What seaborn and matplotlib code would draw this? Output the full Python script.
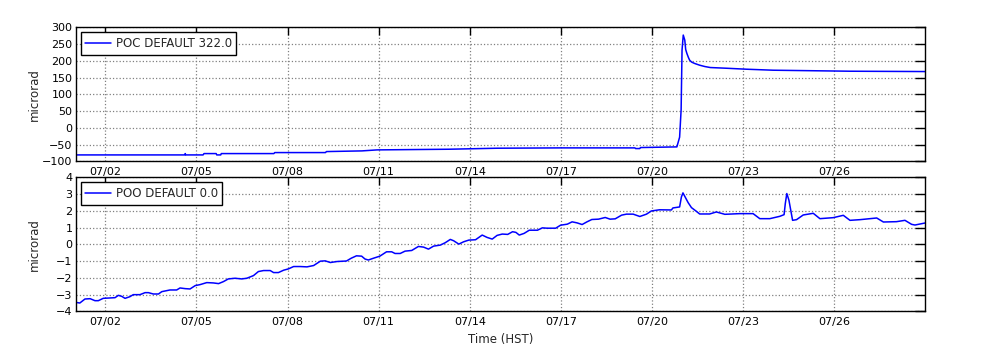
import pandas as pd
import numpy as np
import seaborn as sns
import matplotlib.pyplot as plt
import matplotlib.dates as mdates

# Readings picked off the reference plot (day of July, microrad)
poc_day = [1.03, 4.62, 4.63, 4.65, 5.22, 5.25, 5.65, 5.67, 5.80, 5.82, 7.55, 7.58,
           9.25, 9.28, 10.45, 10.95, 13.31, 14.90, 16.99, 19.44, 19.46, 19.60, 19.62,
           20.82, 20.91, 20.96, 20.99, 21.03, 21.08, 21.11, 21.15, 21.20, 21.24, 21.31,
           21.41, 21.57, 21.74, 21.92, 22.43, 23.11, 23.99, 26.52, 28.99]
poc_val = [-81, -81, -77, -81, -81, -77, -77, -81, -81, -77, -77, -74,
           -74, -71, -69, -66, -64, -61, -60, -60, -62, -62, -59,
           -57, -28, 54, 232, 277, 262, 234, 222, 210, 202, 196,
           192, 187, 183, 180, 178, 175, 172, 169, 168]

poo_day = [1.03, 1.16, 1.33, 1.50, 1.66, 1.77, 1.93, 2.15, 2.32, 2.43, 2.54, 2.65, 2.81,
           2.92, 3.14, 3.31, 3.42, 3.58, 3.75, 3.86, 4.13, 4.35, 4.46, 4.63, 4.79, 4.96,
           5.12, 5.34, 5.56, 5.73, 5.89, 6.05, 6.27, 6.49, 6.66, 6.88, 7.04, 7.21, 7.43,
           7.54, 7.70, 7.87, 8.03, 8.20, 8.42, 8.64, 8.86, 9.08, 9.24, 9.41, 9.63, 9.94,
           10.10, 10.27, 10.44, 10.55, 10.66, 10.82, 11.04, 11.26, 11.43, 11.54, 11.71,
           11.87, 12.09, 12.31, 12.48, 12.64, 12.81, 13.03, 13.19, 13.36, 13.47, 13.64,
           13.80, 13.97, 14.19, 14.41, 14.57, 14.74, 14.90, 15.07, 15.25, 15.41, 15.52,
           15.63, 15.79, 15.96, 16.23, 16.39, 16.55, 16.83, 16.99, 17.21, 17.37, 17.53,
           17.70, 17.86, 18.02, 18.24, 18.46, 18.62, 18.79, 19.00, 19.16, 19.38, 19.60,
           19.82, 19.98, 20.25, 20.64, 20.69, 20.91, 20.97, 21.02, 21.08, 21.19, 21.30,
           21.46, 21.57, 21.90, 22.12, 22.40, 22.89, 23.33, 23.55, 23.88, 24.21, 24.35,
           24.39, 24.44, 24.51, 24.57, 24.63, 24.76, 24.98, 25.31, 25.53, 25.97, 26.30,
           26.52, 26.85, 27.29, 27.40, 27.62, 28.05, 28.33, 28.55, 28.66, 28.99]
poo_val = [-3.46, -3.50, -3.26, -3.24, -3.36, -3.36, -3.22, -3.20, -3.18, -3.04, -3.10, -3.22, -3.12,
           -3.00, -3.00, -2.88, -2.88, -2.96, -2.96, -2.82, -2.72, -2.72, -2.60, -2.64, -2.66, -2.46,
           -2.40, -2.28, -2.30, -2.34, -2.22, -2.06, -2.02, -2.06, -2.02, -1.86, -1.62, -1.56, -1.56,
           -1.68, -1.68, -1.54, -1.46, -1.32, -1.32, -1.34, -1.26, -1.00, -0.98, -1.08, -1.02, -0.99,
           -0.82, -0.68, -0.70, -0.87, -0.93, -0.83, -0.70, -0.44, -0.44, -0.54, -0.54,
           -0.40, -0.36, -0.12, -0.16, -0.28, -0.10, -0.04, 0.10, 0.30, 0.22, 0.02,
           0.16, 0.26, 0.28, 0.56, 0.42, 0.32, 0.54, 0.62, 0.60, 0.76, 0.72,
           0.56, 0.66, 0.85, 0.85, 0.99, 0.97, 0.97, 1.15, 1.21, 1.35, 1.29,
           1.19, 1.35, 1.49, 1.51, 1.61, 1.51, 1.53, 1.75, 1.81, 1.81, 1.67,
           1.81, 2.00, 2.07, 2.06, 2.18, 2.24, 2.84, 3.08, 2.88, 2.50, 2.20,
           1.98, 1.82, 1.82, 1.94, 1.80, 1.84, 1.84, 1.54, 1.54, 1.68, 1.78,
           2.44, 3.04, 2.64, 2.04, 1.44, 1.48, 1.76, 1.86, 1.54, 1.60, 1.74,
           1.44, 1.48, 1.56, 1.58, 1.34, 1.36, 1.44, 1.20, 1.16, 1.28]

poc_label = "POC DEFAULT 322.0"
poo_label = "POO DEFAULT 0.0"
tick_days = [2, 5, 8, 11, 14, 17, 20, 23, 26]


def to_time(days):
    """turn July day numbers into timestamps"""
    return pd.Timestamp("2018-07-01") + pd.to_timedelta(np.array(days) - 1, unit="D")


sns.set_style("white")
plt.rcParams['font.family'] = ['DejaVu Sans']

fig = plt.figure(figsize=(10, 3.6), dpi=100)
ax1 = fig.add_axes([0.076, 0.552, 0.849, 0.372])
ax2 = fig.add_axes([0.076, 0.135, 0.849, 0.372])

panels = [(ax1, poc_day, poc_val, poc_label, np.arange(-100, 301, 50), (-100, 300)),
          (ax2, poo_day, poo_val, poo_label, np.arange(-4, 5, 1), (-4, 4))]

for ax, days, vals, label, yticks, ylim in panels:
    df = pd.DataFrame({"time": to_time(days), "value": vals})
    sns.lineplot(data=df, x="time", y="value", ax=ax, color="#0000ff",
                 linewidth=1.1, label=label)
    ax.set_xlim(to_time([1.035])[0], to_time([28.99])[0])
    ax.set_ylim(*ylim)
    ax.set_yticks(yticks)
    ax.xaxis.set_major_locator(mdates.DayLocator(bymonthday=tick_days))
    ax.xaxis.set_major_formatter(mdates.DateFormatter("%m/%d"))
    ax.grid(True, linestyle=":", color="#808080", linewidth=0.9)
    ax.tick_params(axis="both", direction="in", top=True, right=True,
                   labelsize=8, colors="black", width=1)
    ax.tick_params(axis="y", length=7, pad=2.5)
    ax.tick_params(axis="x", length=6, pad=4)
    for s in ax.spines.values():
        s.set_color("black")
        s.set_linewidth(1.0)
    ax.set_ylabel("microrad", fontsize=8.5)
    ax.yaxis.set_label_coords(-0.041, 0.5)
    ax.set_xlabel("")
    leg = ax.legend(loc="upper left", fontsize=8.5, frameon=True, fancybox=False,
                    edgecolor="black", framealpha=1, borderaxespad=0.4,
                    handlelength=2.2, handletextpad=0.35, borderpad=0.4)
    leg.get_frame().set_linewidth(1.0)

ax2.set_xlabel("Time (HST)", fontsize=8.5, labelpad=4)

fig.savefig("out.png", dpi=100)
